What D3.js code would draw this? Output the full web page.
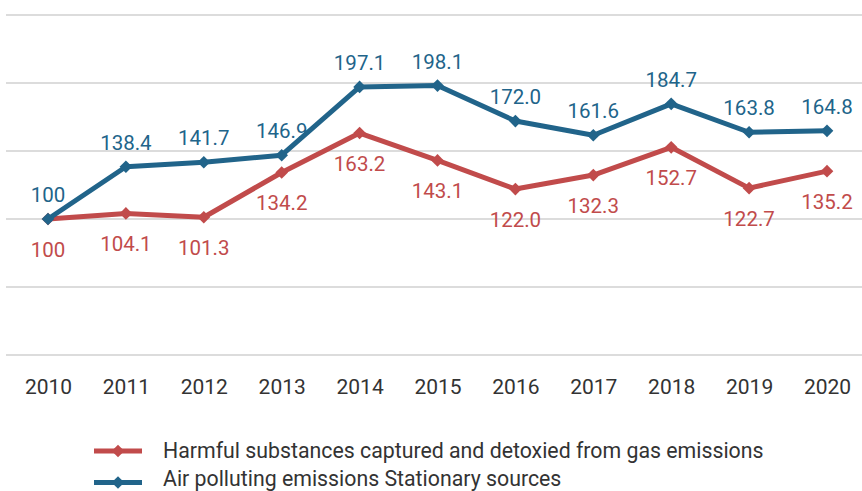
<!DOCTYPE html>
<html>
<head>
<meta charset="utf-8">
<script src="https://cdn.jsdelivr.net/npm/d3@7/dist/d3.min.js"></script>
<style>
  html, body { margin: 0; padding: 0; background: #fff; }
  svg { display: block; font-family: Roboto, "Noto Sans", sans-serif; }
</style>
</head>
<body>
<svg id="chart" width="862" height="491"></svg>
<script>
// Index values, 2010 = 100
const years = ["2010", "2011", "2012", "2013", "2014", "2015", "2016", "2017", "2018", "2019", "2020"];
const harmfulCaptured = [100, 104.1, 101.3, 134.2, 163.2, 143.1, 122.0, 132.3, 152.7, 122.7, 135.2];
const airEmissions = [100, 138.4, 141.7, 146.9, 197.1, 198.1, 172.0, 161.6, 184.7, 163.8, 164.8];
const gridTicks = [0, 50, 100, 150, 200, 250];
const seriesNames = [
  "Harmful substances captured and detoxied from gas emissions",
  "Air polluting emissions Stationary sources"
];

const RED = "#c14b4b";
const BLUE = "#21648a";

const svg = d3.select("#chart");
const x = d3.scalePoint().domain(years).range([48, 827]);
const y = d3.scaleLinear().domain([0, 250]).range([355, 15]);

const fmt = v => (v === 100 ? "100" : v.toFixed(1));

// horizontal gridlines
svg.append("g").selectAll("line").data(gridTicks).join("line")
  .attr("x1", 6).attr("x2", 862)
  .attr("y1", d => y(d)).attr("y2", d => y(d))
  .attr("stroke", "#dcdcdc").attr("stroke-width", 2);

// year axis
const xAxis = svg.append("g")
  .attr("transform", "translate(0,394)")
  .call(d3.axisBottom(x).tickSize(0).tickPadding(0));
xAxis.select(".domain").remove();
xAxis.selectAll("text")
  .attr("y", 0).attr("dy", 0)
  .attr("font-size", 21).attr("fill", "#333")
  .attr("font-family", "Roboto, sans-serif");

const series = [
  { name: seriesNames[0], values: harmfulCaptured, color: RED, dy: 38 },
  { name: seriesNames[1], values: airEmissions, color: BLUE, dy: -17 }
];

const line = d3.line().x((d, i) => x(years[i])).y(d => y(d));
const diamond = d3.symbol().type(d3.symbolSquare).size(80);

series.forEach(s => {
  const g = svg.append("g");
  g.append("path").datum(s.values)
    .attr("d", line)
    .attr("fill", "none").attr("stroke", s.color)
    .attr("stroke-width", 5).attr("stroke-linejoin", "round");
  g.selectAll("path.m").data(s.values).join("path")
    .attr("class", "m")
    .attr("d", diamond)
    .attr("transform", (d, i) => `translate(${x(years[i])},${y(d)}) rotate(45)`)
    .attr("fill", s.color);
  g.selectAll("text").data(s.values).join("text")
    .attr("x", (d, i) => x(years[i]))
    .attr("y", d => y(d) + s.dy)
    .attr("text-anchor", "middle")
    .attr("font-size", 20.5)
    .attr("fill", s.color)
    .text(fmt);
});

// legend
const legend = svg.append("g");
series.forEach((s, i) => {
  const ly = 451 + i * 31.5;
  legend.append("line")
    .attr("x1", 94).attr("x2", 142).attr("y1", ly).attr("y2", ly)
    .attr("stroke", s.color).attr("stroke-width", 5);
  legend.append("path")
    .attr("d", diamond)
    .attr("transform", `translate(118,${ly}) rotate(45)`)
    .attr("fill", s.color);
  legend.append("text")
    .attr("x", 163).attr("y", 458 + i * 28)
    .attr("font-size", 21.3).attr("fill", "#333")
    .text(s.name);
});
</script>
</body>
</html>
